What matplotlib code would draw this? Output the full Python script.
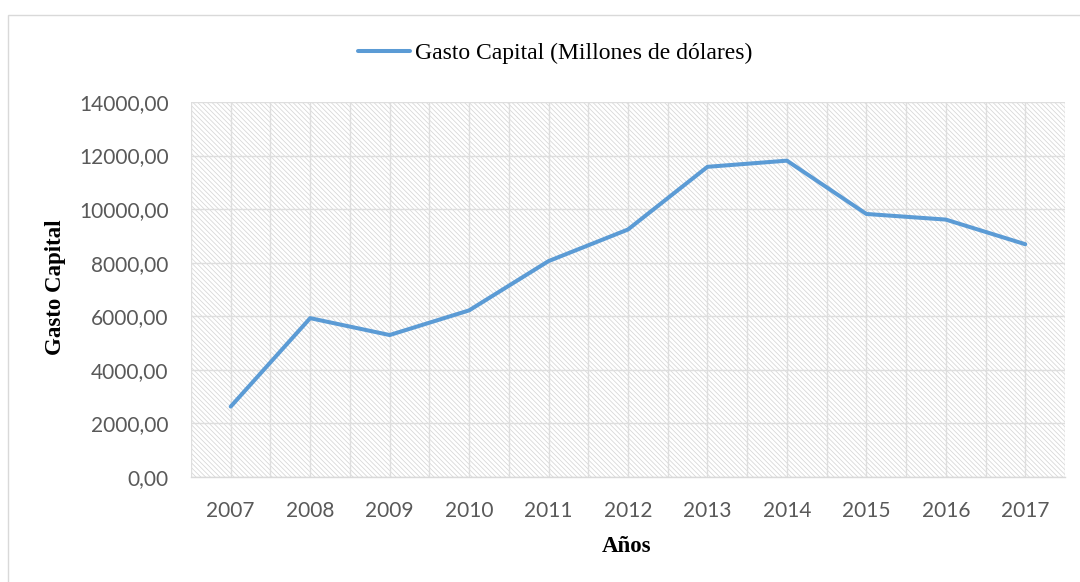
import matplotlib
matplotlib.use("Agg")
import matplotlib.pyplot as plt
from matplotlib.patches import Rectangle
from matplotlib.ticker import FuncFormatter
import numpy as np

# ---- data ----
years = ["2007", "2008", "2009", "2010", "2011", "2012", "2013", "2014", "2015", "2016", "2017"]
gasto_capital = [2630, 5930, 5300, 6220, 8060, 9240, 11580, 11810, 9820, 9610, 8690]
y_ticks = [0, 2000, 4000, 6000, 8000, 10000, 12000, 14000]
series_label = "Gasto Capital (Millones de dólares)"
y_label = "Gasto Capital"
x_label = "Años"

W, H = 1080, 582
plt.rcParams['hatch.linewidth'] = 0.55
plt.rcParams['hatch.color'] = '#d6d6d6'

fig = plt.figure(figsize=(W / 100, H / 100), dpi=100)
fig.patch.set_facecolor('white')

# outer chart border
fig.patches.append(Rectangle((8 / W, -0.05), 1.2, (1 - 15 / H) + 0.05, transform=fig.transFigure,
                             facecolor='none', edgecolor='#d9d9d9', linewidth=1.0, zorder=0))

left, right, top, bottom = 191, 1065, 102, 477
ax = fig.add_axes([left / W, (H - bottom) / H, (right - left) / W, (bottom - top) / H])
ax.patch.set_facecolor('white')

# hatched plot area
hatch_rect = Rectangle((0, 0), 1, 1, transform=ax.transAxes, facecolor='white',
                       edgecolor='#d6d6d6', hatch='\\' * 7, linewidth=0, zorder=0)
ax.add_patch(hatch_rect)

x = np.arange(len(years))
ax.plot(x, gasto_capital, color='#5B9BD5', linewidth=2.9, solid_joinstyle='round',
        solid_capstyle='round', label=series_label, zorder=5)

ax.set_xlim(-0.5, len(years) - 0.5)
ax.set_ylim(y_ticks[0], y_ticks[-1])
ax.set_xticks(x)
ax.set_xticklabels(years)
ax.set_yticks(y_ticks)
ax.yaxis.set_major_formatter(FuncFormatter(lambda v, p: f"{v:.2f}".replace('.', ',')))

# gridlines
for yv in y_ticks:
    ax.axhline(yv, color='#dedede', linewidth=1.0, zorder=1)
for xv in np.arange(-0.5, len(years), 0.5):
    ax.axvline(xv, color='#dedede', linewidth=1.0, zorder=1)

for s in ['top', 'right', 'left']:
    ax.spines[s].set_visible(False)
ax.spines['bottom'].set_color('#d9d9d9')
ax.spines['bottom'].set_linewidth(1.0)
ax.spines['bottom'].set_zorder(3)

ax.tick_params(axis='both', length=0, labelsize=15, labelcolor='#595959')
ax.tick_params(axis='y', pad=16)
ax.tick_params(axis='x', pad=17)
for lbl in ax.get_xticklabels() + ax.get_yticklabels():
    lbl.set_family(['Lato', 'DejaVu Sans'])

# axis titles
fig.text(56 / W, 1 - 287 / H, y_label, rotation=90, ha='center', va='center',
         fontsize=16.5, fontweight='bold', family=['Liberation Serif', 'DejaVu Serif'])
fig.text(627 / W, 1 - 547 / H, x_label, ha='center', va='center',
         fontsize=16.5, fontweight='bold', family=['Liberation Serif', 'DejaVu Serif'])

# legend
leg = fig.legend(loc='center', bbox_to_anchor=(555 / W, 1 - 53 / H), frameon=False,
                 handlelength=2.2, handletextpad=0.2, borderpad=0,
                 prop={'family': ['Liberation Serif', 'DejaVu Serif'], 'size': 17})

fig.savefig('out.png', dpi=100, facecolor='white')
